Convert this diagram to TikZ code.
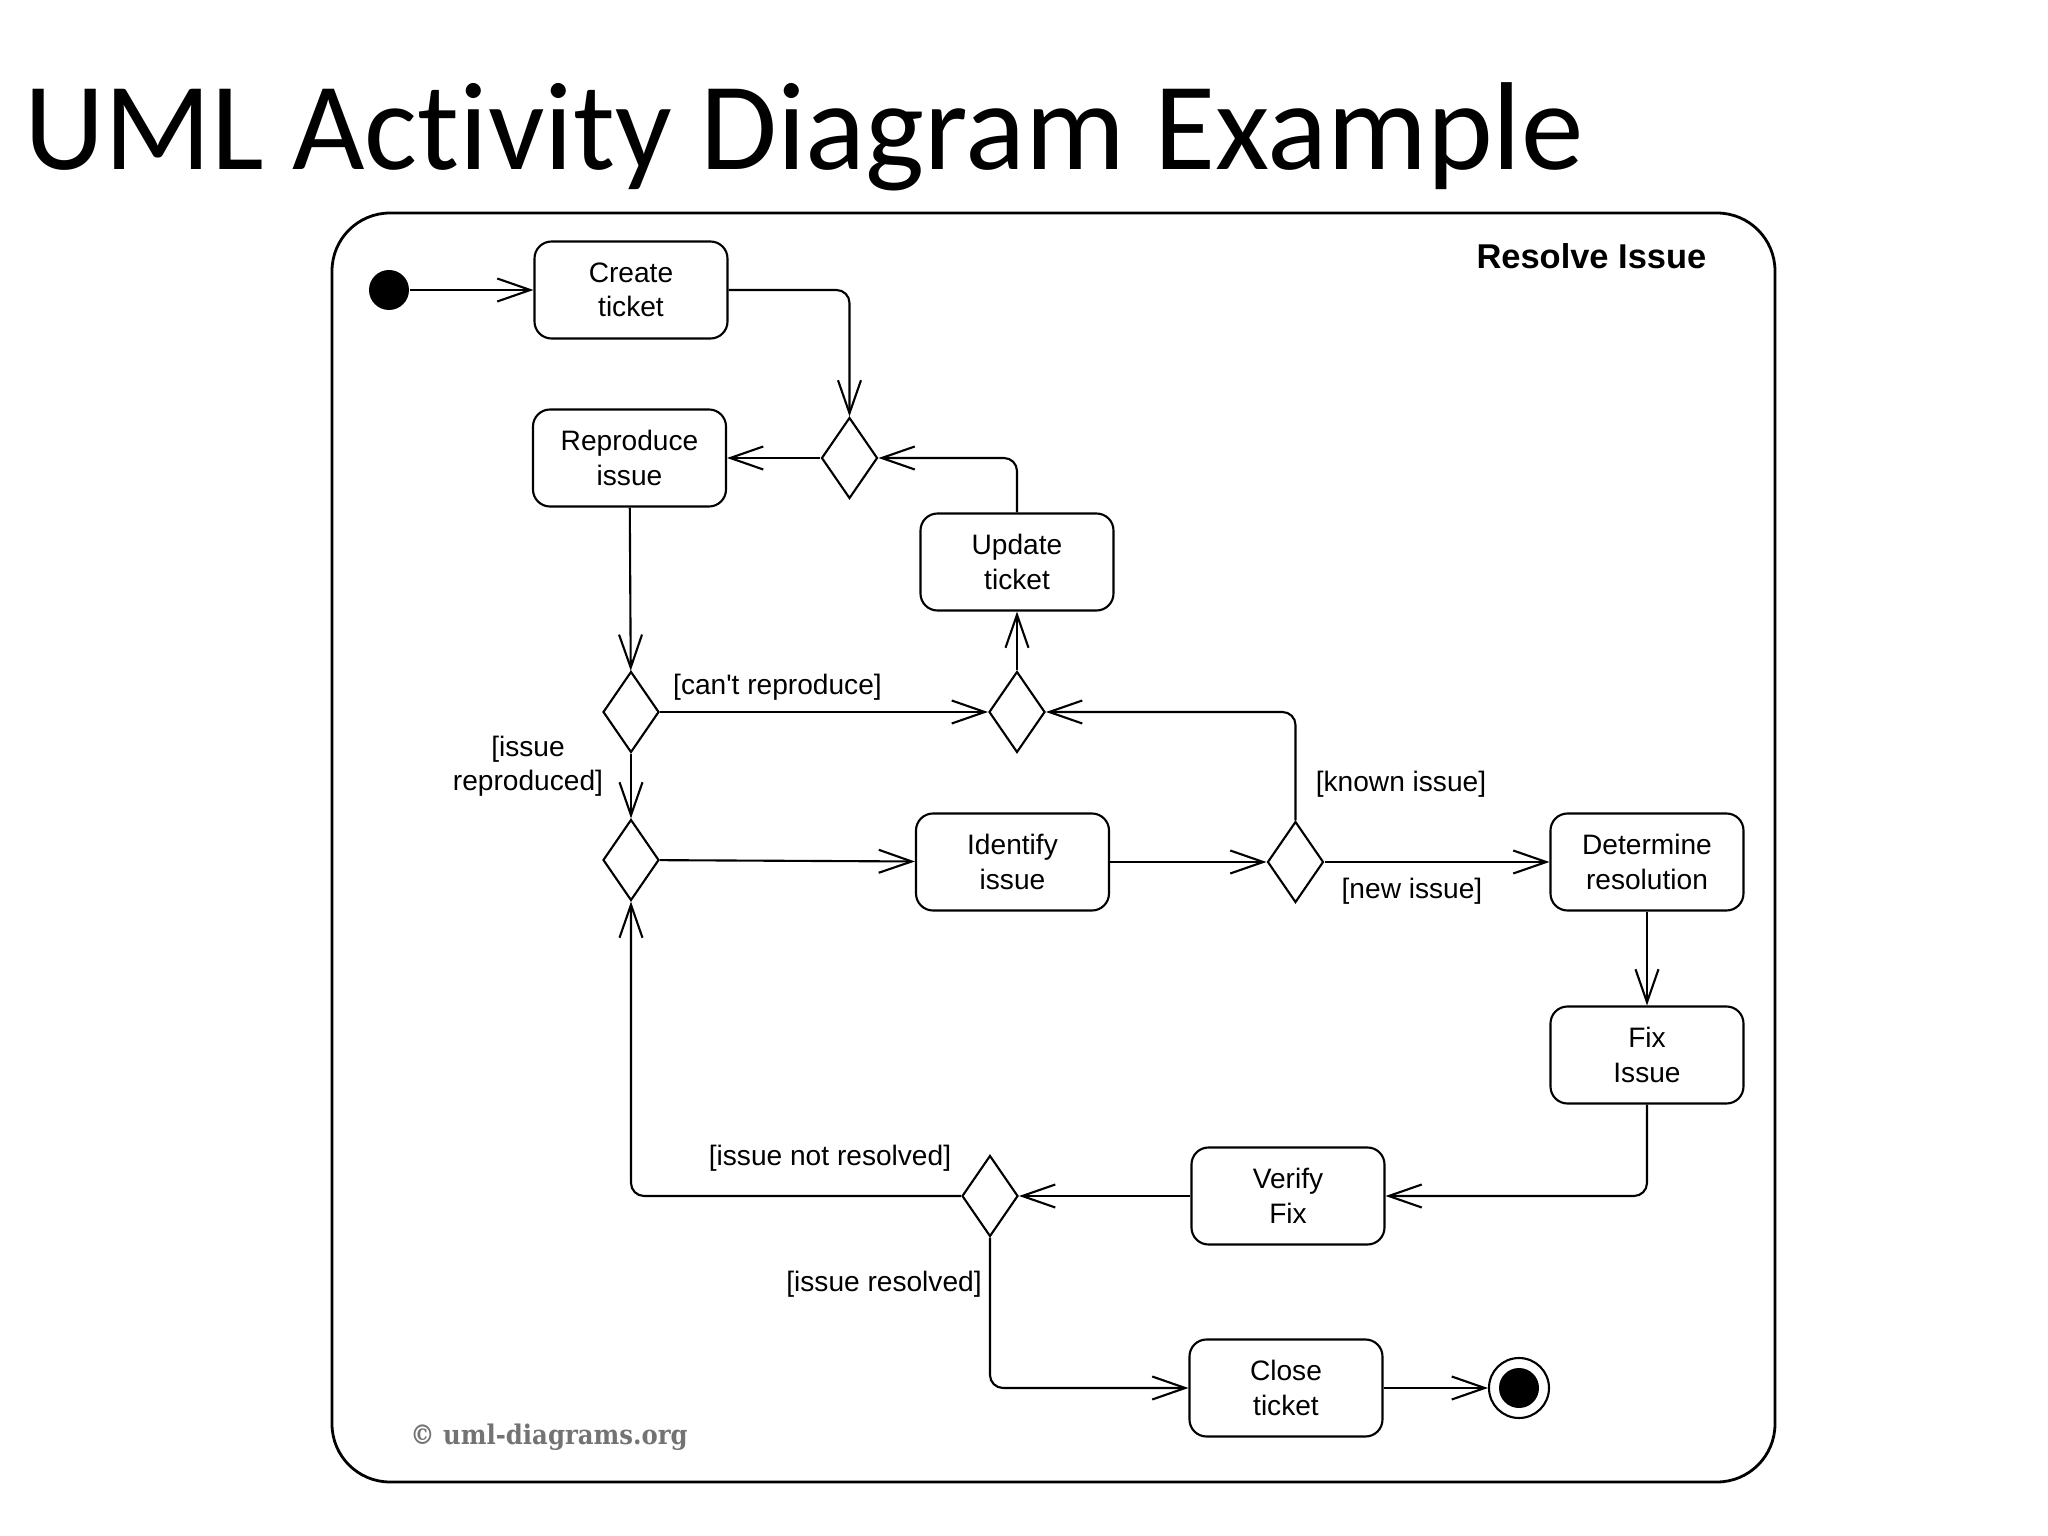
\documentclass[tikz,border=0pt]{standalone}
\usepackage{fontspec}
\setmainfont{Liberation Sans}
\newfontfamily\guardfont{Liberation Sans}
\newfontfamily\titlefont[Ligatures=NoCommon]{Carlito}
\newfontfamily\markfont{DejaVu Serif Condensed}
\usetikzlibrary{arrows.meta,shapes.geometric}

\tikzset{
  act/.style={draw, rounded corners=1.7mm, minimum width=1.93cm, minimum height=0.97cm,
    align=center, line width=0.6pt, font=\fontsize{8}{9.8}\selectfont},
  dec/.style={draw, diamond, minimum width=0.56cm, minimum height=0.81cm, inner sep=0pt, line width=0.6pt},
  guard/.style={align=center, inner sep=0pt, font=\guardfont\fontsize{8}{9.8}\selectfont},
  flow/.style={line width=0.6pt, rounded corners=1.3mm}
}

\begin{document}
\begin{tikzpicture}[>={Straight Barb[length=3.3mm,width=2.3mm]}]
\useasboundingbox (0,0) rectangle (20.48,-15.36);

  \node[anchor=base west, inner sep=0pt, font=\titlefont\fontsize{35.6}{40}\selectfont] at (0.235,-1.70) (title) {UML Activity Diagram Example};
\draw[line width=0.8pt, rounded corners=5.8mm] (3.32,-2.13) rectangle (17.75,-14.82);
  \node[anchor=base east, inner sep=0pt, font=\bfseries\fontsize{9.8}{12}\selectfont] at (17.07,-2.69) (frame) {Resolve Issue};

                 \node [circle, fill, minimum size=0.4cm, inner sep=0pt] at (3.89,-2.90) (init) {};
                 \node [act] at (6.31,-2.90) (ct) {Create\\ticket};
                    \node [dec] at (8.495,-4.58) (d1) {};
                 \node [act] at (6.295,-4.58) (rep) {Reproduce\\issue};
                 \node [act] at (10.17,-5.62) (upd) {Update\\ticket};
                    \node [dec] at (6.31,-7.12) (d2) {};
                    \node [dec] at (10.17,-7.12) (d3) {};
                    \node [dec] at (6.31,-8.60) (d4) {};
                 \node [act] at (10.125,-8.62) (idf) {Identify\\issue};
                    \node [dec] at (12.955,-8.62) (d5) {};
                 \node [act] at (16.47,-8.62) (det) {Determine\\resolution};
                 \node [act] at (16.47,-10.55) (fix) {Fix\\Issue};
                 \node [act] at (12.88,-11.96) (ver) {Verify\\Fix};
                    \node [dec] at (9.90,-11.96) (d6) {};
                 \node [act] at (12.86,-13.88) (cls) {Close\\ticket};
                 \node [circle, draw, line width=0.6pt, minimum size=0.6cm, inner sep=0pt] at (15.19,-13.88) (stop) {};
                 \node [circle, fill, minimum size=0.4cm, inner sep=0pt] at (stop) (stopdot) {};
%
\draw[<-, flow] (ct) -- (init);
\draw[<-, flow] (d1.north) |- (ct.east);
\draw[<-, flow] (d1.east) -| (upd.north);
\draw[<-, flow] (rep) -- (d1);
\draw[<-, flow] (d2) -- (rep);
\draw[<-, flow] (d3) -- (d2);
\draw[<-, flow] (d4) -- (d2);
\draw[<-, flow] (upd) -- (d3);
\draw[<-, flow] (idf) -- (d4);
\draw[<-, flow] (d5) -- (idf);
\draw[<-, flow] (d3.east) -| (d5.north);
\draw[<-, flow] (det) -- (d5);
\draw[<-, flow] (fix) -- (det);
\draw[<-, flow] (ver.east) -| (fix.south);
\draw[<-, flow] (d6) -- (ver);
\draw[<-, flow] (d4.south) |- (d6.west);
\draw[<-, flow] (cls.west) -| (d6.south);
\draw[<-, flow] (stop) -- (cls);
%
  \node[guard] at (7.775,-6.87) (g1) {[can't reproduce]};
  \node[guard] at (5.28,-7.66) (g2) {[issue\\reproduced]};
  \node[guard] at (14.01,-7.84) (g3) {[known issue]};
  \node[guard] at (14.12,-8.91) (g4) {[new issue]};
  \node[guard] at (8.30,-11.58) (g5) {[issue not resolved]};
  \node[guard] at (8.84,-12.84) (g6) {[issue resolved]};
  \node[text=black!55, font=\markfont\bfseries\fontsize{7.7}{9}\selectfont] at (5.49,-14.37) (copy) {© uml-diagrams.org};
%
\end{tikzpicture}
\end{document}
